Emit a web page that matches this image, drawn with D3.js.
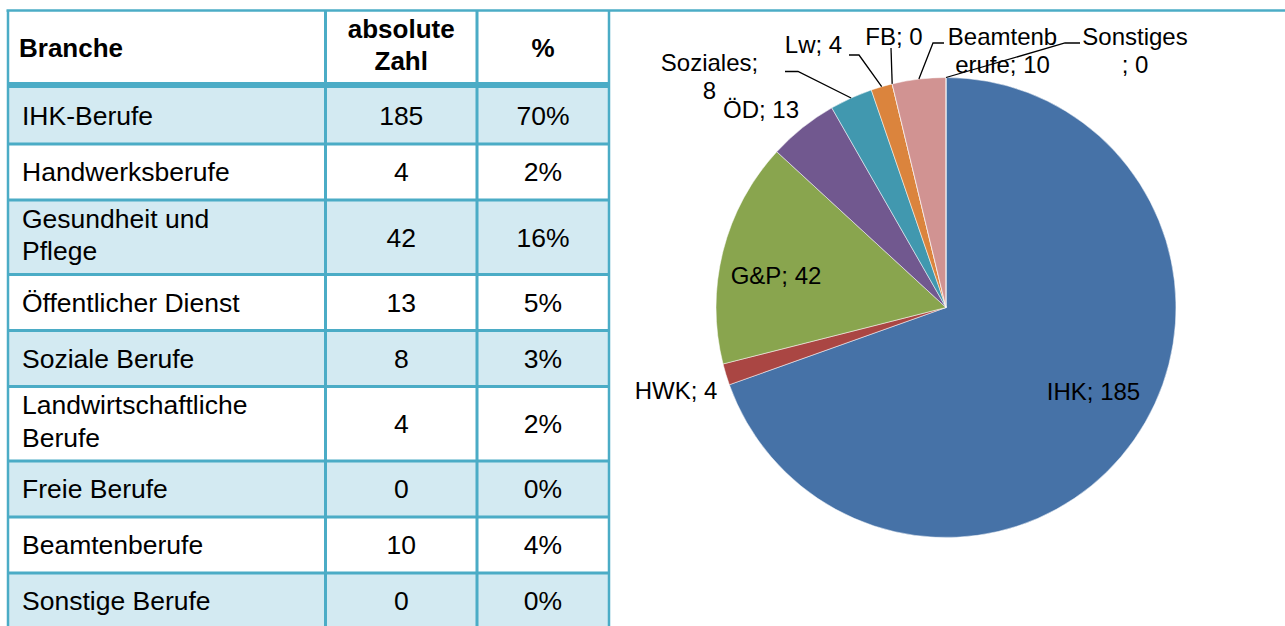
<!DOCTYPE html>
<html><head><meta charset="utf-8">
<script src="https://cdn.jsdelivr.net/npm/d3@7"></script>
<style>body{margin:0;background:#fff} svg{display:block}</style>
</head><body>
<svg id="c" width="1285" height="626"></svg>
<script>
// ---- data ----
const headers = ["Branche", "absolute Zahl", "%"];
const branches = ["IHK-Berufe", "Handwerksberufe", "Gesundheit und Pflege", "Öffentlicher Dienst", "Soziale Berufe", "Landwirtschaftliche Berufe", "Freie Berufe", "Beamtenberufe", "Sonstige Berufe"];
const counts = [185, 4, 42, 13, 8, 4, 0, 10, 0];
const percents = ["70%", "2%", "16%", "5%", "3%", "2%", "0%", "4%", "0%"];
const shortNames = ["IHK", "HWK", "G&P", "ÖD", "Soziales", "Lw", "FB", "Beamtenberufe", "Sonstiges"];

// ---- layout / style ----
const FONT = "'Liberation Sans', Arial, Helvetica, sans-serif";
const lineCol = "#4BACC6", fillCol = "#D3EAF2";
const sliceColors = ["#4672A7", "#AA4643", "#89A54E", "#71588F", "#4198AF", "#DB843D", "#93A9CF", "#D19392", "#B9CD96"];
const headerBreaks = [null, 8, null];
const rowBreaks = [null, null, 14, null, null, 19, null, null, null];
const colX = [8, 325.5, 477, 609];
const tableTop = 10.5;
const singleH = 56, doubleH = 74.5;

const svg = d3.select("#c");

// ---- table ----
function splitAt(s, i) { return i == null ? [s] : [s.slice(0, i).trim(), s.slice(i).trim()]; }
const rows = [];
let y = tableTop;
rows.push({y0: y, y1: y + doubleH, header: true}); y += doubleH;
branches.forEach((b, i) => {
  const h = (rowBreaks[i] != null ? doubleH : singleH) + (i === 0 ? 3 : 0);
  rows.push({y0: y, y1: y + h, i}); y += h;
});

const tg = svg.append("g");
tg.selectAll("rect.fill").data(rows.filter(r => !r.header && r.i % 2 === 0)).join("rect")
  .attr("x", colX[0]).attr("width", colX[3] - colX[0])
  .attr("y", d => d.y0).attr("height", d => d.y1 - d.y0)
  .attr("fill", fillCol);

function cellText(g, lines, x, yc, anchor, bold) {
  const n = lines.length;
  const offs = n === 1 ? [0] : [-19, 13.5];
  lines.forEach((t, k) => {
    g.append("text").attr("x", x).attr("y", yc + offs[k]).attr("dy", "0.35em")
      .attr("text-anchor", anchor).attr("font-family", FONT).attr("font-size", bold ? 26 : 26.5)
      .attr("font-weight", bold ? "bold" : "normal").attr("fill", "#000").text(t);
  });
}
const colCx = [null, (colX[1] + colX[2]) / 2, (colX[2] + colX[3]) / 2];
rows.forEach(r => {
  const yc = (r.y0 + r.y1) / 2 + (r.i === 0 ? 1.5 : 0);
  if (r.header) {
    cellText(tg, splitAt(headers[0], headerBreaks[0]), 19, yc, "start", true);
    cellText(tg, splitAt(headers[1], headerBreaks[1]), colCx[1], yc, "middle", true);
    cellText(tg, splitAt(headers[2], headerBreaks[2]), colCx[2], yc, "middle", true);
  } else {
    cellText(tg, splitAt(branches[r.i], rowBreaks[r.i]), 22, yc, "start", false);
    cellText(tg, [String(counts[r.i])], colCx[1], yc, "middle", false);
    cellText(tg, [percents[r.i]], colCx[2], yc, "middle", false);
  }
});
rows.forEach((r, k) => {
  if (k === 0) return;
  tg.append("line").attr("x1", colX[0]).attr("x2", colX[3]).attr("y1", r.y0).attr("y2", r.y0)
    .attr("stroke", lineCol).attr("stroke-width", k === 1 ? 6 : 3);
});
tg.append("line").attr("x1", colX[0] - 1.5).attr("x2", 1285).attr("y1", tableTop).attr("y2", tableTop)
  .attr("stroke", lineCol).attr("stroke-width", 2.5);
colX.forEach((x, k) => {
  tg.append("line").attr("x1", x).attr("x2", x).attr("y1", tableTop).attr("y2", 640)
    .attr("stroke", lineCol).attr("stroke-width", (k === 0 || k === 3) ? 2.5 : 3);
});

// ---- pie ----
const cx = 946, cy = 307.5, R = 230;
const pg = svg.append("g").attr("transform", `translate(${cx},${cy})`);
const arcs = d3.pie().sort(null).value(d => d)(counts);
const arc = d3.arc().innerRadius(0).outerRadius(R);
const rim = d3.arc().innerRadius(R).outerRadius(R);
pg.selectAll("path").data(arcs).join("path")
  .attr("d", arc).attr("fill", (d, i) => sliceColors[i])
  .attr("stroke", "#fff").attr("stroke-width", 0.5);

const labelLayout = [
  {dx: 147.5, dy: 84.5},
  {dx: -270, dy: 83.5},
  {dx: -170, dy: -31.5},
  {dx: -185, dy: -197.5},
  {dx: -236.5, dy: -244.5, split: 9, leader: [[-161, -236], [-148, -236]]},
  {dx: -132.5, dy: -262.5, leader: [[-97, -252.5], [-87, -252.5]]},
  {dx: -52, dy: -270.5, leader: [[-55, -259.5]]},
  {dx: 56.5, dy: -270.5, split: 8, leader: [[-2, -264.5], [-13, -264.5]]},
  {dx: 189, dy: -270.5, split: 9, leader: [[134, -264.5], [119, -264.5]]}
];
const lineGap = 28;
arcs.forEach((d, i) => {
  const L = labelLayout[i];
  if (L.leader) {
    const pts = L.leader.concat([rim.centroid(d)]);
    pg.append("path").attr("d", d3.line()(pts)).attr("fill", "none")
      .attr("stroke", "#000").attr("stroke-width", 1.3);
  }
});
arcs.forEach((d, i) => {
  const L = labelLayout[i];
  const txt = shortNames[i] + "; " + counts[i];
  const lines = splitAt(txt, L.split);
  lines.forEach((t, k) => {
    pg.append("text").attr("x", L.dx).attr("y", L.dy + k * lineGap).attr("dy", "0.35em")
      .attr("text-anchor", "middle").attr("font-family", FONT).attr("font-size", 24)
      .attr("fill", "#000").text(t);
  });
});
</script>
</body></html>
